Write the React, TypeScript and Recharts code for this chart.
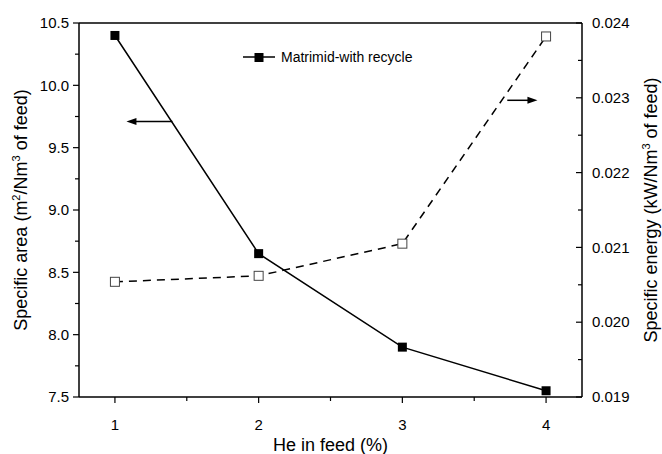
import React from "react";
import { ComposedChart, Line, XAxis, YAxis, Legend, ReferenceLine } from "recharts";

const FONT = "'Liberation Sans', Arial, sans-serif";
const INK = "#000";

/* ─── data ─────────────────────────────────────────── */
const HE_FEED = [1, 2, 3, 4];
const SPECIFIC_AREA = [10.4, 8.65, 7.9, 7.55];
const SPECIFIC_ENERGY = [0.02054, 0.02062, 0.02105, 0.02382];
const SERIES_NAME = "Matrimid-with recycle";

const X_MAJOR = [1, 2, 3, 4];
const X_MINOR = [1.5, 2.5, 3.5];
const AREA_MAJOR = [7.5, 8.0, 8.5, 9.0, 9.5, 10.0, 10.5];
const AREA_MINOR = [7.75, 8.25, 8.75, 9.25, 9.75, 10.25];
const ENERGY_MAJOR = [0.019, 0.02, 0.021, 0.022, 0.023, 0.024];
const ENERGY_MINOR = [0.0195, 0.0205, 0.0215, 0.0225, 0.0235];

// annotation arrows (start -> head), in x / left-axis units
const LEFT_ARROW = [{ x: 1.4, y: 9.71 }, { x: 1.08, y: 9.71 }];
const RIGHT_ARROW = [{ x: 3.73, y: 9.88 }, { x: 3.94, y: 9.88 }];

const rows = HE_FEED.map((he, i) => ({
  he,
  area: SPECIFIC_AREA[i],
  energy: SPECIFIC_ENERGY[i],
}));

/* ─── ticks with minor marks ───────────────────────── */
function makeTick(side: "left" | "right" | "bottom", major: number[], fmt: (v: number) => string) {
  return (props: any) => {
    const { x, y, payload } = props;
    const isMajor = major.includes(payload.value);
    const len = isMajor ? 6 : 4;
    if (side === "left") {
      return (
        <g>
          <line x1={x - len} x2={x} y1={y} y2={y} stroke={INK} strokeWidth={1.2} />
          {isMajor && (
            <text x={x - 10} y={y} dy="0.35em" textAnchor="end" fontSize={15} fontFamily={FONT} fill={INK}>
              {fmt(payload.value)}
            </text>
          )}
        </g>
      );
    }
    if (side === "right") {
      return (
        <g>
          <line x1={x - len} x2={x} y1={y} y2={y} stroke={INK} strokeWidth={1.2} />
          {isMajor && (
            <text x={x + 10} y={y} dy="0.35em" textAnchor="start" fontSize={15} fontFamily={FONT} fill={INK}>
              {fmt(payload.value)}
            </text>
          )}
        </g>
      );
    }
    return (
      <g>
        <line x1={x} x2={x} y1={y} y2={y + len} stroke={INK} strokeWidth={1.2} />
        {isMajor && (
          <text x={x} y={y + 33} textAnchor="middle" fontSize={15} fontFamily={FONT} fill={INK}>
            {fmt(payload.value)}
          </text>
        )}
      </g>
    );
  };
}

/* ─── axis titles ──────────────────────────────────── */
const sup = (s: string) => [
  <tspan key="s" dy={-7} fontSize={11}>{s}</tspan>,
];

function LeftTitle({ viewBox }: any) {
  const cx = viewBox.x + 27;
  const cy = viewBox.y + viewBox.height / 2;
  return (
    <text x={cx} y={cy} transform={`rotate(-90 ${cx} ${cy})`} textAnchor="middle"
          fontSize={18} fontFamily={FONT} fill={INK}>
      <tspan>Specific area (m</tspan>
      {sup("2")}
      <tspan dy={7}>/Nm</tspan>
      {sup("3")}
      <tspan dy={7}> of feed)</tspan>
    </text>
  );
}

function RightTitle({ viewBox }: any) {
  const cx = viewBox.x + 75;
  const cy = viewBox.y + viewBox.height / 2;
  return (
    <text x={cx} y={cy} transform={`rotate(-90 ${cx} ${cy})`} textAnchor="middle"
          fontSize={18} fontFamily={FONT} fill={INK}>
      <tspan>Specific energy (kW/Nm</tspan>
      {sup("3")}
      <tspan dy={7}> of feed)</tspan>
    </text>
  );
}

function BottomTitle({ viewBox }: any) {
  return (
    <text x={viewBox.x + viewBox.width / 2} y={viewBox.y + 54} textAnchor="middle"
          fontSize={18} fontFamily={FONT} fill={INK}>
      He in feed (%)
    </text>
  );
}

/* ─── marks ────────────────────────────────────────── */
const FilledSquare = (p: any) =>
  <rect key={`f${p.index}`} x={p.cx - 4.5} y={p.cy - 4.5} width={9} height={9} fill={INK} />;
const OpenSquare = (p: any) =>
  <rect key={`o${p.index}`} x={p.cx - 4.5} y={p.cy - 4.5} width={9} height={9}
        fill="#fff" stroke="#444" strokeWidth={1} />;

const Arrow = ({ x1, y1, x2, y2 }: any) => {
  const dir = x2 > x1 ? 1 : -1;
  return (
    <g>
      <line x1={x1} y1={y1} x2={x2 - dir * 6} y2={y2} stroke={INK} strokeWidth={1.5} />
      <polygon points={`${x2},${y2} ${x2 - dir * 10},${y2 - 3.5} ${x2 - dir * 10},${y2 + 3.5}`} fill={INK} />
    </g>
  );
};

function LegendBox() {
  return (
    <svg width={200} height={18} style={{ display: "block" }}>
      <line x1={0} x2={32} y1={9} y2={9} stroke={INK} strokeWidth={1.5} />
      <rect x={11.5} y={5} width={9} height={9} fill={INK} />
      <text x={38} y={14} fontSize={14} fontFamily={FONT} fill={INK}>{SERIES_NAME}</text>
    </svg>
  );
}

export default function App() {
  return (
    <div style={{ position: "absolute", left: 0, top: 0, background: "#fff" }}>
      <ComposedChart width={662} height={454} data={rows}
                     margin={{ top: 23, right: 0, bottom: 0, left: 0 }}>
        <XAxis dataKey="he" type="number" domain={[0.75, 4.25]} allowDataOverflow
               ticks={[...X_MAJOR, ...X_MINOR].sort((a, b) => a - b)}
               tick={makeTick("bottom", X_MAJOR, (v) => String(v))}
               tickLine={false} tickSize={0} tickMargin={0} height={57}
               axisLine={{ stroke: INK, strokeWidth: 1.5 }}
               label={{ content: BottomTitle }} />
        <YAxis yAxisId="left" orientation="left" type="number" domain={[7.5, 10.5]} allowDataOverflow
               ticks={[...AREA_MAJOR, ...AREA_MINOR].sort((a, b) => a - b)}
               tick={makeTick("left", AREA_MAJOR, (v) => v.toFixed(1))}
               tickLine={false} tickSize={0} tickMargin={0} width={79}
               axisLine={{ stroke: INK, strokeWidth: 1.5 }}
               label={{ content: LeftTitle }} />
        <YAxis yAxisId="right" orientation="right" type="number" domain={[0.019, 0.024]} allowDataOverflow
               ticks={[...ENERGY_MAJOR, ...ENERGY_MINOR].sort((a, b) => a - b)}
               tick={makeTick("right", ENERGY_MAJOR, (v) => v.toFixed(3))}
               tickLine={false} tickSize={0} tickMargin={0} width={80}
               axisLine={{ stroke: INK, strokeWidth: 1.5 }}
               label={{ content: RightTitle }} />

        {/* frame top */}
        <ReferenceLine yAxisId="left" y={10.5} stroke={INK} strokeWidth={1.5} />

        <ReferenceLine yAxisId="left" segment={LEFT_ARROW} shape={Arrow} />
        <ReferenceLine yAxisId="left" segment={RIGHT_ARROW} shape={Arrow} />

        <Line yAxisId="right" type="linear" dataKey="energy" name="energy"
              stroke={INK} strokeWidth={1.5} strokeDasharray="8 6"
              dot={OpenSquare} activeDot={false} isAnimationActive={false} />
        <Line yAxisId="left" type="linear" dataKey="area" name={SERIES_NAME}
              stroke={INK} strokeWidth={1.5}
              dot={FilledSquare} activeDot={false} isAnimationActive={false} />

        <Legend layout="vertical" align="center" verticalAlign="middle"
                wrapperStyle={{ left: 243, top: 48, width: 200, height: 18 }}
                content={() => <LegendBox />} />
      </ComposedChart>
    </div>
  );
}
